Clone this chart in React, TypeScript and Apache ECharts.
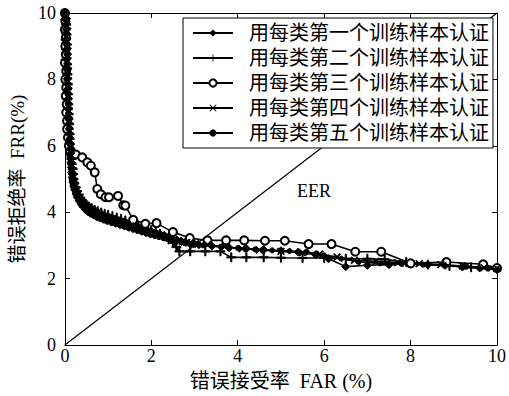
import React, { useEffect, useRef } from "react";
import * as echarts from "echarts";

const seriesNames = [
  "用每类第一个训练样本认证",
  "用每类第二个训练样本认证",
  "用每类第三个训练样本认证",
  "用每类第四个训练样本认证",
  "用每类第五个训练样本认证",
];

const s1: number[][] = [[0,10],[0.02,9.85],[0.01,9.7],[0.03,9.55],[0.01,9.4],[0.04,9.25],[0.02,9.1],[0.03,8.95],[0.01,8.8],[0.04,8.65],[0.02,8.5],[0.05,8.35],[0.03,8.2],[0.05,8.05],[0.03,7.9],[0.06,7.75],[0.04,7.6],[0.06,7.45],[0.05,7.3],[0.07,7.15],[0.06,7.0],[0.08,6.85],[0.07,6.7],[0.09,6.55],[0.08,6.4],[0.1,6.25],[0.1,6.1],[0.11,5.95],[0.12,5.8],[0.13,5.65],[0.14,5.5],[0.15,5.35],[0.16,5.2],[0.17,5.05],[0.19,4.9],[0.21,4.78],[0.24,4.66],[0.27,4.55],[0.3,4.45],[0.34,4.36],[0.38,4.29],[0.43,4.22],[0.48,4.16],[0.54,4.1],[0.6,4.05],[0.67,4.0],[0.75,3.96],[0.83,3.92],[0.92,3.88],[1.0,3.84],[1.1,3.8],[1.2,3.76],[1.3,3.72],[1.4,3.68],[1.5,3.64],[1.6,3.6],[1.7,3.55],[1.8,3.5],[1.9,3.46],[2.0,3.42],[2.1,3.38],[2.2,3.34],[2.3,3.3],[2.4,3.25],[2.5,3.2],[2.6,3.16],[2.7,3.12],[2.8,3.09],[2.9,3.06],[3.0,3.04],[3.1,3.02],[3.4,2.98],[3.8,2.93],[4.2,2.9],[4.6,2.87],[5.0,2.84],[5.4,2.8],[5.8,2.72],[6.1,2.6],[6.5,2.36],[7.0,2.4],[7.5,2.42],[8.0,2.45],[8.4,2.42],[8.8,2.4],[9.2,2.35],[9.6,2.32],[10,2.28]];

const s2: number[][] = [[0,10],[0.01,9.8],[0.03,9.65],[0.02,9.5],[0.04,9.35],[0.02,9.2],[0.05,9.05],[0.03,8.9],[0.04,8.75],[0.02,8.6],[0.05,8.45],[0.04,8.3],[0.06,8.15],[0.04,8.0],[0.07,7.85],[0.05,7.7],[0.07,7.55],[0.06,7.4],[0.08,7.25],[0.07,7.1],[0.09,6.95],[0.08,6.8],[0.1,6.65],[0.09,6.5],[0.11,6.35],[0.11,6.2],[0.12,6.05],[0.13,5.9],[0.14,5.75],[0.15,5.6],[0.16,5.45],[0.18,5.3],[0.19,5.15],[0.2,5.0],[0.22,4.88],[0.25,4.75],[0.28,4.64],[0.32,4.53],[0.36,4.44],[0.4,4.36],[0.45,4.29],[0.5,4.23],[0.56,4.17],[0.62,4.12],[0.69,4.07],[0.76,4.03],[0.84,3.99],[0.92,3.95],[1.0,3.92],[1.1,3.88],[1.2,3.84],[1.3,3.8],[1.4,3.75],[1.5,3.7],[1.6,3.65],[1.7,3.6],[1.8,3.55],[1.9,3.5],[2.0,3.46],[2.1,3.42],[2.2,3.35],[2.3,3.27],[2.4,3.18],[2.5,3.08],[2.58,2.95],[2.65,2.82],[2.9,2.82],[3.25,2.82],[3.6,2.82],[3.85,2.64],[4.2,2.64],[4.6,2.64],[5.0,2.63],[5.5,2.62],[6.0,2.62],[6.5,2.6],[7.0,2.6],[7.4,2.58],[7.9,2.5],[8.4,2.42],[8.9,2.38],[9.4,2.34],[10,2.3]];

const s3: number[][] = [[0,10],[0.01,9.75],[0.0,9.5],[0.02,9.25],[0.01,9.0],[0.02,8.75],[0.0,8.5],[0.03,8.25],[0.01,8.0],[0.03,7.75],[0.02,7.5],[0.04,7.25],[0.03,7.0],[0.05,6.75],[0.05,6.5],[0.07,6.25],[0.09,6.0],[0.12,5.8],[0.18,5.76],[0.25,5.74],[0.4,5.65],[0.52,5.5],[0.6,5.4],[0.69,5.2],[0.75,4.7],[0.83,4.54],[0.94,4.45],[1.02,4.45],[1.23,4.49],[1.35,4.21],[1.4,4.2],[1.58,3.77],[1.86,3.65],[2.12,3.67],[2.5,3.4],[2.89,3.22],[3.3,3.15],[3.73,3.15],[4.15,3.15],[4.63,3.14],[5.09,3.14],[5.64,3.04],[6.17,3.04],[6.72,2.81],[7.32,2.81],[8.0,2.46],[8.83,2.5],[9.68,2.43],[10,2.32]];

const s4: number[][] = [[0,10],[0.03,9.9],[0.05,9.75],[0.03,9.6],[0.06,9.45],[0.04,9.3],[0.06,9.15],[0.04,9.0],[0.07,8.85],[0.05,8.7],[0.07,8.55],[0.05,8.4],[0.08,8.25],[0.06,8.1],[0.08,7.95],[0.07,7.8],[0.09,7.65],[0.07,7.5],[0.09,7.35],[0.08,7.2],[0.1,7.05],[0.09,6.9],[0.11,6.75],[0.1,6.6],[0.11,6.45],[0.12,6.3],[0.12,6.15],[0.13,6.0],[0.14,5.85],[0.15,5.7],[0.16,5.55],[0.17,5.4],[0.19,5.25],[0.2,5.05],[0.21,4.85],[0.23,4.74],[0.26,4.62],[0.29,4.52],[0.33,4.42],[0.37,4.33],[0.41,4.25],[0.46,4.18],[0.51,4.11],[0.57,4.05],[0.63,4.0],[0.7,3.95],[0.78,3.9],[0.86,3.86],[0.94,3.82],[1.02,3.78],[1.12,3.74],[1.22,3.7],[1.32,3.66],[1.42,3.62],[1.52,3.58],[1.62,3.54],[1.72,3.5],[1.82,3.45],[1.92,3.41],[2.02,3.37],[2.12,3.33],[2.22,3.29],[2.32,3.25],[2.42,3.21],[2.52,3.17],[2.62,3.14],[2.72,3.11],[2.82,3.09],[2.92,3.07],[3.02,3.05],[3.3,3.02],[3.7,2.96],[4.1,2.9],[4.5,2.86],[5.0,2.82],[5.5,2.78],[5.9,2.74],[6.3,2.65],[6.7,2.55],[7.2,2.52],[7.7,2.48],[8.2,2.45],[8.7,2.42],[9.2,2.38],[9.7,2.33],[10,2.3]];

const s5: number[][] = [[0,10],[0.02,9.9],[0.0,9.8],[0.02,9.65],[0.01,9.5],[0.03,9.35],[0.01,9.2],[0.03,9.05],[0.02,8.9],[0.04,8.75],[0.02,8.6],[0.04,8.45],[0.03,8.3],[0.05,8.15],[0.03,8.0],[0.05,7.85],[0.04,7.7],[0.06,7.55],[0.05,7.4],[0.07,7.25],[0.06,7.1],[0.07,6.95],[0.07,6.8],[0.08,6.65],[0.08,6.5],[0.09,6.35],[0.09,6.2],[0.1,6.05],[0.11,5.9],[0.11,5.75],[0.12,5.6],[0.13,5.45],[0.14,5.3],[0.15,5.15],[0.16,4.95],[0.18,4.82],[0.2,4.7],[0.23,4.58],[0.26,4.47],[0.3,4.37],[0.34,4.28],[0.38,4.2],[0.43,4.12],[0.48,4.05],[0.54,3.98],[0.6,3.93],[0.67,3.88],[0.74,3.83],[0.82,3.79],[0.9,3.75],[0.98,3.71],[1.08,3.67],[1.18,3.63],[1.28,3.59],[1.38,3.55],[1.48,3.51],[1.58,3.47],[1.68,3.43],[1.78,3.39],[1.88,3.35],[1.98,3.31],[2.08,3.28],[2.18,3.25],[2.28,3.22],[2.38,3.19],[2.48,3.16],[2.58,3.13],[2.68,3.1],[2.78,3.08],[2.9,3.05],[3.0,3.03],[3.2,3.0],[3.6,2.96],[4.0,2.92],[4.4,2.88],[4.8,2.85],[5.2,2.83],[5.6,2.8],[6.0,2.7],[6.4,2.6],[6.8,2.5],[7.3,2.46],[7.8,2.44],[8.3,2.42],[8.8,2.4],[9.3,2.36],[9.8,2.3],[10,2.28]];

const eerLine: number[][] = [[0, 0], [10, 10]];

const FONT = '"Liberation Serif", "Noto Sans CJK SC", serif';
const PLUS = "path://M-0.12,-1H0.12V-0.12H1V0.12H0.12V1H-0.12V0.12H-1V-0.12H-0.12Z";
const CROSS = "path://M-1,-0.8L-0.8,-1L0,-0.2L0.8,-1L1,-0.8L0.2,0L1,0.8L0.8,1L0,0.2L-0.8,1L-1,0.8L-0.2,0Z";

export default function App() {
  const ref = useRef<HTMLDivElement>(null);
  useEffect(() => {
    if (!ref.current) return;
    const chart = echarts.init(ref.current, undefined, { renderer: "svg" });
    const lineStyle = { color: "#000", width: 1.6 };
    const mk = (name: string, data: number[][], symbol: string, size: number, extra: any = {}) => ({
      name,
      type: "line",
      data,
      symbol,
      symbolSize: size,
      showAllSymbol: true,
      lineStyle,
      itemStyle: { color: "#000", borderColor: "#000", ...extra },
      z: 3,
    });
    const axisCommon = {
      type: "value",
      min: 0,
      max: 10,
      interval: 2,
      splitLine: { show: false },
      axisLine: { show: true, onZero: false, lineStyle: { color: "#000", width: 1 } },
      axisTick: { show: true, inside: true, length: 5, lineStyle: { color: "#000" } },
    };
    chart.setOption({
      animation: false,
      backgroundColor: "#fff",
      grid: { left: 64, right: 9, top: 13, bottom: 50, containLabel: false },
      xAxis: [
        {
          ...axisCommon,
          position: "bottom",
          name: "错误接受率  FAR (%)",
          nameLocation: "middle",
          nameGap: 26,
          nameTextStyle: { fontFamily: FONT, fontSize: 20, color: "#000" },
          axisLabel: { fontFamily: FONT, fontSize: 18, color: "#000", margin: 2 },
        },
        {
          ...axisCommon,
          position: "top",
          axisLabel: { show: false },
        },
      ],
      yAxis: [
        {
          ...axisCommon,
          position: "left",
          name: "错误拒绝率  FRR(%)",
          nameLocation: "middle",
          nameGap: 34,
          nameTextStyle: { fontFamily: FONT, fontSize: 19, color: "#000" },
          axisLabel: { fontFamily: FONT, fontSize: 18, color: "#000", margin: 9 },
        },
        {
          ...axisCommon,
          position: "right",
          axisLabel: { show: false },
        },
      ],
      legend: {
        data: seriesNames,
        orient: "vertical",
        left: 183,
        top: 18,
        backgroundColor: "#fff",
        borderColor: "#000",
        borderWidth: 1,
        borderRadius: 0,
        padding: [5, 4, 5, 9],
        itemWidth: 40,
        itemHeight: 9,
        itemGap: 5,
        textStyle: { fontFamily: FONT, fontSize: 20, color: "#000", padding: [0, 0, 0, 11] },
      },
      graphic: [
        {
          type: "text",
          left: 297,
          top: 182,
          z: 10,
          style: { text: "EER", font: '18px "Liberation Serif"', fill: "#000" },
        },
      ],
      series: [
        {
          name: "EER",
          type: "line",
          data: eerLine,
          symbol: "none",
          lineStyle: { color: "#000", width: 1.2 },
          z: 2,
        },
        mk(seriesNames[0], s1, "diamond", 8),
        mk(seriesNames[1], s2, PLUS, 9),
        mk(seriesNames[2], s3, "emptyCircle", 8, { borderWidth: 1.4 }),
        mk(seriesNames[3], s4, CROSS, 7),
        mk(seriesNames[4], s5, "circle", 5),
      ],
    });
    return () => chart.dispose();
  }, []);
  return <div ref={ref} style={{ width: 509, height: 396, position: "absolute", left: 0, top: 0 }} />;
}
